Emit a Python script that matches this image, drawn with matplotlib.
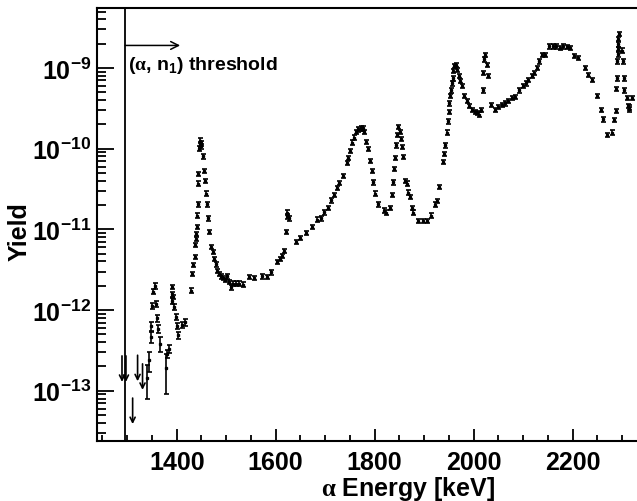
import numpy as np
import matplotlib
matplotlib.use("Agg")
import matplotlib.pyplot as plt
from matplotlib.ticker import FixedLocator, MultipleLocator, FixedFormatter, NullFormatter

plt.rcParams['font.family'] = ['Liberation Sans', 'DejaVu Sans']
plt.rcParams['font.weight'] = 'bold'
plt.rcParams['mathtext.fontset'] = 'custom'
plt.rcParams['mathtext.rm'] = 'Liberation Serif'
plt.rcParams['mathtext.bf'] = 'Liberation Sans:bold'
plt.rcParams['mathtext.it'] = 'Liberation Sans:italic'

# low-energy points (larger, individually read error bars)
energy_low = [1341, 1344, 1348, 1349, 1350, 1352.7, 1355.6, 1358.8, 1360.8, 1362.8,
              1366.3, 1378.4, 1381, 1385, 1389.9, 1390.5, 1391, 1393.1, 1395.2, 1398,
              1400, 1403.2, 1410.1, 1416.8]
yield_low = [1.43e-13, 2.37e-13, 4.65e-13, 6.35e-13, 1.12e-12, 1.68e-12, 1.99e-12, 1.19e-12,
             7.98e-13, 5.83e-13, 3.84e-13, 1.89e-13, 2.86e-13, 3.30e-13, 1.30e-12, 1.58e-12,
             1.93e-12, 1.45e-12, 1.09e-12, 8.2e-13, 6.35e-13, 4.91e-13, 6.53e-13, 7.12e-13]
err_low = [0.63e-13, 0.66e-13, 0.7e-13, 0.8e-13, 0.1e-12, 0.12e-12, 0.15e-12, 0.1e-12,
           0.8e-13, 0.7e-13, 0.81e-13, 0.98e-13, 0.35e-13, 0.4e-13, 0.1e-12, 0.11e-12,
           0.13e-12, 0.1e-12, 0.09e-12, 0.7e-13, 0.6e-13, 0.5e-13, 0.6e-13, 0.7e-13]

# main scan
energy = [1428.9, 1431.5, 1433.5, 1436, 1437, 1439, 1440, 1440.5, 1442, 1442.5,
          1443.6, 1444, 1446, 1447, 1448, 1449, 1450, 1453.7, 1455.8, 1456.3,
          1458.6, 1460.6, 1462.6, 1465.3, 1469.3, 1472.7, 1476, 1479.4, 1482, 1485.5,
          1489.5, 1494.1, 1497.6, 1502.2, 1505.7, 1509.1, 1514.3, 1519.8, 1526.5, 1534.5,
          1546, 1556.8, 1571.7, 1581.8, 1590.5, 1602, 1608.7, 1612.1, 1617.4, 1620.8,
          1622.5, 1623.5, 1627.5, 1640.4, 1649.1, 1661.2, 1672.7, 1682.8, 1691.5, 1698.2,
          1705, 1711.7, 1718.4, 1723.2, 1728.5, 1736.6, 1743.4, 1746.7, 1750.1, 1753.5,
          1758.2, 1762.2, 1766.9, 1771.7, 1775.8, 1778.4, 1782.4, 1787.1, 1790.5, 1793.9,
          1797.2, 1800.6, 1807.3, 1818, 1822, 1830.9, 1834.3, 1837.6, 1839.6, 1841,
          1843, 1844.4, 1847.7, 1851.1, 1853.1, 1854.5, 1856.6, 1861.2, 1864.6, 1867.9,
          1871.3, 1874.7, 1878, 1886.9, 1898.2, 1906.3, 1913.1, 1921.8, 1925.3, 1930.5,
          1937.4, 1940, 1942, 1945.5, 1947.5, 1949.5, 1950.7, 1952.1, 1954.1, 1955.6,
          1957.6, 1958.8, 1960.8, 1963.6, 1966.9, 1969.7, 1972.3, 1975.7, 1980.4, 1985.9,
          1991.1, 1997.2, 2002.6, 2007.3, 2011.3, 2014.7, 2018.2, 2019.4, 2021.4, 2022.8,
          2026.3, 2028.3, 2034.3, 2043, 2049.7, 2056.6, 2063.2, 2069.9, 2076.8, 2083.4,
          2091.5, 2099, 2105.7, 2110.3, 2117.2, 2122.4, 2127.3, 2132.5, 2137.4, 2144,
          2152.7, 2159.6, 2166.3, 2174.3, 2181, 2187.9, 2194.5, 2202.6, 2211.3, 2224.8,
          2231.5, 2238.4, 2248.5, 2256.5, 2261.8, 2268.7, 2278.8, 2284, 2287.5, 2288.5,
          2289.5, 2290.5, 2291, 2291.5, 2292, 2292.5, 2293, 2299, 2302.5, 2303.5,
          2304.5, 2309, 2312.3, 2313, 2314.3, 2319.2]
yields = [1.73e-12, 2.80e-12, 3.62e-12, 4.55e-12, 6.41e-12, 7.60e-12, 8.77e-12, 1.07e-11, 1.47e-11, 2.06e-11,
          3.66e-11, 4.86e-11, 1.00e-10, 1.14e-10, 1.25e-10, 1.15e-10, 1.07e-10, 8.11e-11, 5.30e-11, 3.98e-11,
          2.75e-11, 2.06e-11, 1.38e-11, 9.29e-12, 6.05e-12, 5.25e-12, 4.30e-12, 3.72e-12, 3.05e-12, 2.80e-12,
          2.64e-12, 2.50e-12, 2.36e-12, 2.64e-12, 2.23e-12, 1.93e-12, 2.11e-12, 2.11e-12, 2.11e-12, 2.05e-12,
          2.57e-12, 2.50e-12, 2.64e-12, 2.57e-12, 2.96e-12, 3.94e-12, 4.30e-12, 4.68e-12, 5.40e-12, 9.29e-12,
          1.60e-11, 1.45e-11, 1.38e-11, 6.98e-12, 7.82e-12, 9.02e-12, 1.07e-11, 1.31e-11, 1.38e-11, 1.64e-11,
          1.84e-11, 2.31e-11, 2.67e-11, 3.26e-11, 3.76e-11, 4.59e-11, 6.65e-11, 7.67e-11, 9.36e-11, 1.18e-10,
          1.36e-10, 1.61e-10, 1.75e-10, 1.80e-10, 1.80e-10, 1.61e-10, 1.21e-10, 9.91e-11, 7.05e-11, 5.30e-11,
          3.86e-11, 2.75e-11, 2.06e-11, 1.70e-11, 1.60e-11, 1.84e-11, 2.67e-11, 3.86e-11, 5.60e-11, 7.67e-11,
          1.11e-10, 1.48e-10, 1.86e-10, 1.61e-10, 1.32e-10, 1.05e-10, 7.89e-11, 3.98e-11, 3.66e-11, 2.83e-11,
          2.52e-11, 1.84e-11, 1.60e-11, 1.27e-11, 1.27e-11, 1.27e-11, 1.47e-11, 2.01e-11, 2.25e-11, 3.35e-11,
          6.85e-11, 8.59e-11, 1.11e-10, 1.57e-10, 2.20e-10, 2.85e-10, 3.68e-10, 4.50e-10, 5.33e-10, 6.51e-10,
          7.51e-10, 9.18e-10, 1.06e-9, 1.09e-9, 9.44e-10, 7.96e-10, 6.90e-10, 5.98e-10, 4.50e-10, 3.90e-10,
          3.38e-10, 3.02e-10, 2.85e-10, 2.77e-10, 2.62e-10, 3.02e-10, 5.33e-10, 8.67e-10, 1.29e-9, 1.45e-9,
          1.09e-9, 7.96e-10, 3.48e-10, 3.02e-10, 3.29e-10, 3.48e-10, 3.68e-10, 3.90e-10, 4.25e-10, 4.37e-10,
          5.33e-10, 5.98e-10, 6.51e-10, 7.10e-10, 7.96e-10, 8.67e-10, 1.00e-9, 1.22e-9, 1.45e-9, 1.45e-9,
          1.87e-9, 1.87e-9, 1.87e-9, 1.77e-9, 1.87e-9, 1.82e-9, 1.77e-9, 1.41e-9, 1.33e-9, 1.00e-9,
          8.19e-10, 7.10e-10, 4.50e-10, 3.02e-10, 2.33e-10, 1.48e-10, 1.57e-10, 2.27e-10, 2.93e-10, 5.49e-10,
          7.51e-10, 1.22e-9, 1.49e-9, 1.72e-9, 1.98e-9, 2.29e-9, 2.64e-9, 1.63e-9, 1.22e-9, 7.51e-10,
          5.33e-10, 4.25e-10, 3.38e-10, 3.10e-10, 3.20e-10, 4.25e-10]
rel_err = 0.07

# upper limits drawn as down arrows
limit_energy = [1289.5, 1297.5, 1311, 1321, 1331]
limit_yield = [2.7e-13, 2.7e-13, 8.1e-14, 2.75e-13, 2.15e-13]

threshold = 1296

fig = plt.figure(figsize=(6.37, 5.02), dpi=100)
ax = fig.add_axes([97 / 637, 59.7 / 502, 540 / 637, 433.3 / 502])

ax.set_yscale('log')
ax.set_xlim(1239, 2330)
ax.set_ylim(2.36e-14, 5.53e-9)

ebar = dict(fmt='s', color='black', markersize=1.4, elinewidth=1.2,
            capsize=1.8, capthick=1.2)
ax.errorbar(energy_low, yield_low, yerr=err_low, **ebar)
ax.errorbar(energy, yields, yerr=np.array(yields) * rel_err, **ebar)

for e, y in zip(limit_energy, limit_yield):
    ax.annotate('', xy=(e, y / 2.1), xytext=(e, y),
                arrowprops=dict(arrowstyle='->', color='black', lw=1.2,
                                mutation_scale=9, shrinkA=0, shrinkB=0))

ax.axvline(threshold, color='black', lw=1.3)
ax.annotate('', xy=(1407, 1.90e-9), xytext=(threshold, 1.90e-9),
            arrowprops=dict(arrowstyle='->', color='black', lw=1.1,
                            mutation_scale=14, shrinkA=0, shrinkB=0))
ax.text(1302, 1.09e-9, r'($\mathrm{\alpha}$, n$_{\mathbf{1}}$) threshold',
        fontsize=14, fontweight='bold', va='center', ha='left')

# axes styling
for side in ['left', 'bottom', 'top']:
    ax.spines[side].set_linewidth(1.5)
ax.spines['right'].set_visible(False)

ax.xaxis.set_major_locator(MultipleLocator(200))
ax.xaxis.set_minor_locator(MultipleLocator(50))
ax.tick_params(axis='x', which='major', direction='in', length=9, width=1.3,
               top=False, labelsize=18, pad=6)
ax.tick_params(axis='x', which='minor', direction='in', length=4.5, width=1.3, top=False)

yticks = [1e-13, 1e-12, 1e-11, 1e-10, 1e-9]
ylabels = [r'$\mathbf{10^{-13}}$', r'$\mathbf{10^{-12}}$', r'$\mathbf{10^{-11}}$',
           r'$\mathbf{10^{-10}}$', r'$\mathbf{10^{-9}}$']
ax.yaxis.set_major_locator(FixedLocator(yticks))
ax.yaxis.set_major_formatter(FixedFormatter(ylabels))
minor = [m * 10.0 ** k for k in range(-14, -8) for m in range(2, 10)]
ax.yaxis.set_minor_locator(FixedLocator(minor))
ax.yaxis.set_minor_formatter(NullFormatter())
ax.tick_params(axis='y', which='major', direction='in', length=12, width=1.3,
               right=False, labelsize=18, pad=4)
ax.tick_params(axis='y', which='minor', direction='in', length=6.5, width=1.3, right=False)

fig.text(20 / 637, 1 - 232 / 502, 'Yield', rotation=90, fontsize=18,
         fontweight='bold', ha='center', va='center')
fig.text(408 / 637, 1 - 489 / 502, r'$\mathrm{\alpha}$ Energy [keV]', fontsize=18,
         fontweight='bold', ha='center', va='center')

fig.savefig('out.png', dpi=100)
